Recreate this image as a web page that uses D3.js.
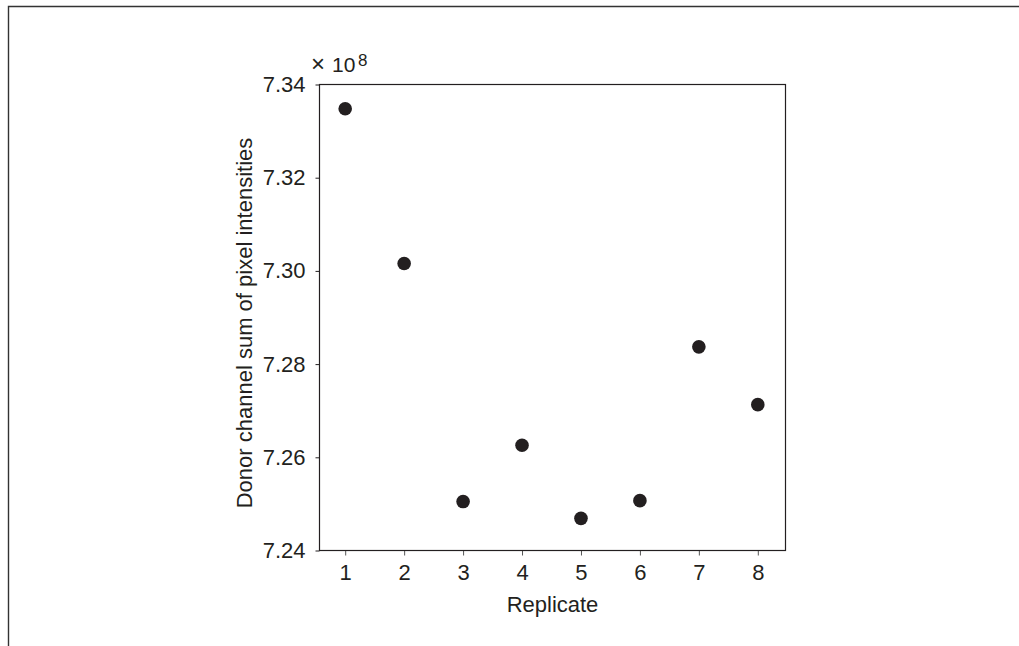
<!DOCTYPE html>
<html>
<head>
<meta charset="utf-8">
<script src="https://cdn.jsdelivr.net/npm/d3@7"></script>
<style>
  html, body { margin: 0; padding: 0; background: #fff; }
  svg { display: block; }
  text { font-family: "Liberation Sans", Arial, Helvetica, sans-serif; fill: #231f20; }
</style>
</head>
<body>
<svg id="chart" width="1019" height="646"></svg>
<script>
// Data
const replicates = [1, 2, 3, 4, 5, 6, 7, 8];
const donorSum = [7.3348, 7.3016, 7.2505, 7.2626, 7.2469, 7.2507, 7.2837, 7.2713]; // x 10^8
const xTicks = [1, 2, 3, 4, 5, 6, 7, 8];
const yTicks = [7.24, 7.26, 7.28, 7.30, 7.32, 7.34];
const xLabel = "Replicate";
const yLabel = "Donor channel sum of pixel intensities";

const ink = "#231f20";
const svg = d3.select("#chart");

// Outer frame (top and left edges)
svg.append("path")
  .attr("d", "M8.5,646 L8.5,6.5 L1019,6.5")
  .attr("fill", "none").attr("stroke", "#333").attr("stroke-width", 1.4);

const L = 319.5, R = 785.5, T = 84.5, B = 550.5;
const x = d3.scaleLinear().domain([0.564, 8.47]).range([L, R]);
const y = d3.scaleLinear().domain([7.24, 7.34]).range([B, T]);

// Y axis
const gy = svg.append("g").attr("transform", `translate(${L},0)`)
  .call(d3.axisLeft(y).tickValues(yTicks).tickFormat(d3.format(".2f")).tickSize(4).tickPadding(10));
gy.select(".domain").remove();
gy.selectAll(".tick line").attr("stroke", ink).attr("stroke-width", 1);
gy.selectAll(".tick text").style("font-size", "22px").attr("fill", ink);

// X axis
const gx = svg.append("g").attr("transform", `translate(0,${B})`)
  .call(d3.axisBottom(x).tickValues(xTicks).tickFormat(d3.format("d")).tickSize(5).tickPadding(9));
gx.select(".domain").remove();
gx.selectAll(".tick line").attr("stroke", "#555").attr("stroke-width", 1);
gx.selectAll(".tick text").style("font-size", "22px").attr("fill", ink);

// Plot box
svg.append("rect")
  .attr("x", L).attr("y", T).attr("width", R - L).attr("height", B - T)
  .attr("fill", "none").attr("stroke", ink).attr("stroke-width", 1.2);

// Points
svg.append("g").selectAll("circle")
  .data(replicates.map((r, i) => ({ r, v: donorSum[i] })))
  .enter().append("circle")
  .attr("cx", d => x(d.r))
  .attr("cy", d => y(d.v))
  .attr("r", 6.8)
  .attr("fill", ink);

// Axis labels
svg.append("text")
  .attr("x", (L + R) / 2).attr("y", 612)
  .attr("text-anchor", "middle")
  .style("font-size", "22px")
  .text(xLabel);

svg.append("text")
  .attr("transform", `translate(252,323) rotate(-90)`)
  .attr("text-anchor", "middle")
  .style("font-size", "22px")
  .text(yLabel);

// Exponent
svg.append("text").attr("x", 311).attr("y", 71.5).style("font-size", "24px").text("\u00d7");
svg.append("text").attr("x", 332).attr("y", 71.5).style("font-size", "21px").text("10");
svg.append("text").attr("x", 358).attr("y", 66).style("font-size", "17px").text("8");
</script>
</body>
</html>
